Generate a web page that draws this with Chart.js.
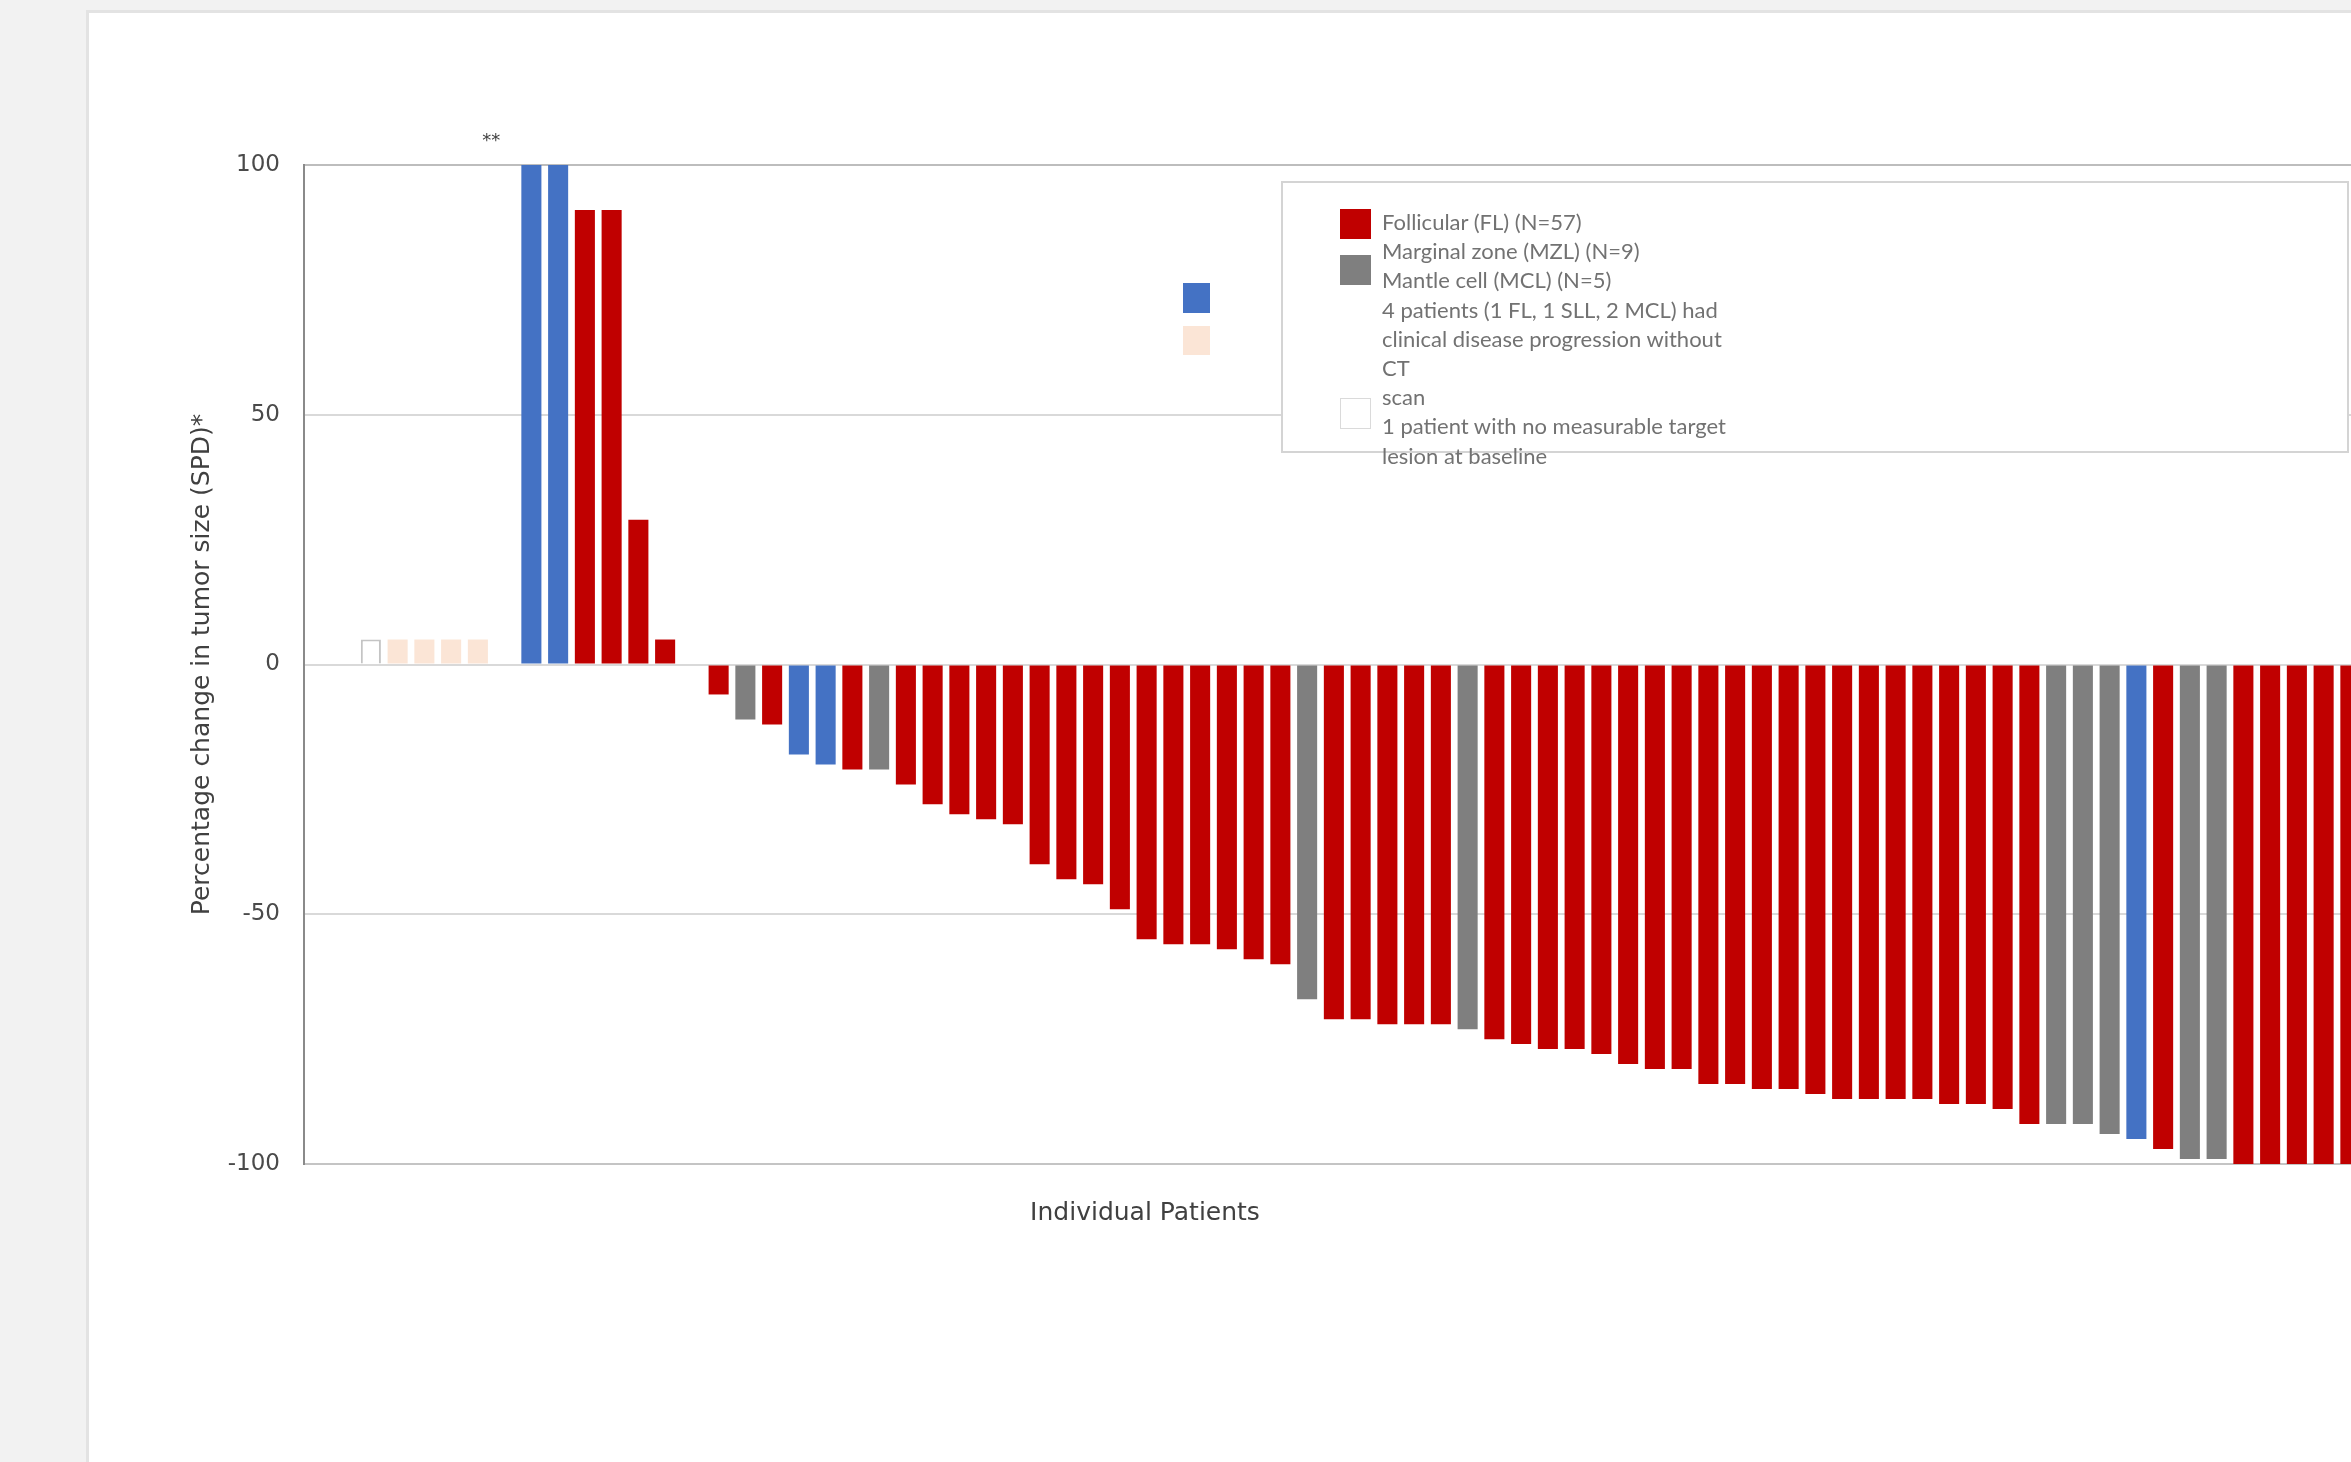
<!DOCTYPE html>
<html>
<head>
<meta charset="utf-8">
<script src="https://cdn.jsdelivr.net/npm/chart.js@4.4.1/dist/chart.umd.min.js"></script>
<style>
  html, body { margin: 0; padding: 0; width: 2351px; height: 1462px; overflow: hidden; background: #f2f2f2; }
  #card { position: absolute; left: 86px; top: 10px; width: 2400px; height: 1520px; background: #fff; border: 3px solid #e3e3e3; }
  #chart { position: absolute; left: 0; top: 0; }
  #key { position: absolute; left: 1281px; top: 181px; width: 1064px; height: 268px; border: 2px solid #d4d4d4; background: #fff; }
  .sw { position: absolute; box-sizing: border-box; }
  #keytext { position: absolute; left: 1382px; top: 207px; font: 22px Lato, sans-serif; line-height: 29.2px; color: #727272; white-space: nowrap; }
</style>
</head>
<body>
<div id="card"></div>
<canvas id="chart" width="2460" height="1462"></canvas>
<div id="key"></div>
<div id="keytext"></div>

<script>
// Best percentage change from baseline in tumour size (SPD), one slot per patient.
// null = spacer slot between groups.
const changePct = [
  null, null,
  5,                    // no measurable target lesion at baseline
  5, 5, 5, 5,           // clinical progression without CT scan
  null,
  100, 100, 91, 91, 29, 5,
  null,
  -6, -11, -12, -18, -20, -21, -21, -24, -28, -30,
  -31, -32, -40, -43, -44, -49, -55, -56, -56, -57,
  -59, -60, -67, -71, -71, -72, -72, -72, -73, -75,
  -76, -77, -77, -78, -80, -81, -81, -84, -84, -85,
  -85, -86, -87, -87, -87, -87, -88, -88, -89, -92,
  -92, -92, -94, -95, -97, -99, -99, -100, -100, -100,
  -100, -100, -100, -100, -100
];

// Histology / status of each slot (same order as changePct).
const subtype = [
  null, null,
  'NM',
  'PD', 'PD', 'PD', 'PD',
  null,
  'MCL', 'MCL', 'FL', 'FL', 'FL', 'FL',
  null,
  'FL', 'MZL', 'FL', 'MCL', 'MCL', 'FL', 'MZL', 'FL', 'FL', 'FL',
  'FL', 'FL', 'FL', 'FL', 'FL', 'FL', 'FL', 'FL', 'FL', 'FL',
  'FL', 'FL', 'MZL', 'FL', 'FL', 'FL', 'FL', 'FL', 'MZL', 'FL',
  'FL', 'FL', 'FL', 'FL', 'FL', 'FL', 'FL', 'FL', 'FL', 'FL',
  'FL', 'FL', 'FL', 'FL', 'FL', 'FL', 'FL', 'FL', 'FL', 'FL',
  'MZL', 'MZL', 'MZL', 'MCL', 'FL', 'MZL', 'MZL', 'FL', 'FL', 'FL',
  'FL', 'FL', 'FL', 'FL', 'FL'
];

const slotLabels = changePct.map((_, i) => 'Pt ' + (i + 1));

const yTicks = [100, 50, 0, -50, -100];

const yTitle = 'Percentage change in tumor size (SPD)*';
const xTitle = 'Individual Patients';
const truncatedMark = '**';

const legendLines = [
  'Follicular (FL) (N=57)',
  'Marginal zone (MZL) (N=9)',
  'Mantle cell (MCL) (N=5)',
  '4 patients (1 FL, 1 SLL, 2 MCL) had',
  'clinical disease progression without',
  'CT',
  'scan',
  '1 patient with no measurable target',
  'lesion at baseline'
];

const palette = {
  FL: '#c00000',
  MZL: '#7f7f7f',
  MCL: '#4472c4',
  PD: '#fbe5d6',
  NM: '#ffffff'
};

// ---- legend (HTML) ----
const keyText = document.getElementById('keytext');
legendLines.forEach(t => {
  const d = document.createElement('div');
  d.textContent = t;
  keyText.appendChild(d);
});
const swatches = [
  { c: palette.FL,  s: 'left:1340px;top:209px;width:31px;height:30px;' },
  { c: palette.MZL, s: 'left:1340px;top:255px;width:31px;height:30px;' },
  { c: palette.MCL, s: 'left:1183px;top:283px;width:27px;height:30px;' },
  { c: palette.PD,  s: 'left:1183px;top:326px;width:27px;height:29px;' },
  { c: palette.NM,  s: 'left:1340px;top:398px;width:31px;height:31px;border:1px solid #dadada;' }
];
swatches.forEach(w => {
  const d = document.createElement('div');
  d.className = 'sw';
  d.style.cssText = w.s + 'background:' + w.c + ';';
  document.body.appendChild(d);
});

// ---- extra text drawn on the canvas ----
const annotations = {
  id: 'annotations',
  afterDraw(chart) {
    const { ctx, chartArea, scales } = chart;
    ctx.save();
    ctx.fillStyle = '#404040';
    ctx.font = '25px "DejaVu Sans"';
    ctx.textAlign = 'center';
    ctx.textBaseline = 'middle';
    ctx.fillText(xTitle, chartArea.left + 841, chartArea.bottom + 49);
    ctx.font = '18px "DejaVu Sans"';
    ctx.fillText(truncatedMark, scales.x.getPixelForValue(6.5), chartArea.top - 24);
    ctx.restore();
  }
};

new Chart(document.getElementById('chart'), {
  type: 'bar',
  data: {
    labels: slotLabels,
    datasets: [{
      data: changePct,
      backgroundColor: subtype.map(s => s ? palette[s] : 'rgba(0,0,0,0)'),
      borderColor: subtype.map(s => s === 'NM' ? '#c4c4c4' : 'rgba(0,0,0,0)'),
      borderWidth: subtype.map(s => s === 'NM' ? 2 : 0),
      barPercentage: 0.75,
      categoryPercentage: 1.0
    }]
  },
  options: {
    responsive: false,
    animation: false,
    devicePixelRatio: 1,
    layout: { padding: { top: 165, bottom: 298, left: 0, right: 16 } },
    plugins: { legend: { display: false }, tooltip: { enabled: false } },
    scales: {
      x: {
        type: 'category',
        offset: true,
        ticks: { display: false },
        grid: { display: false, drawTicks: false },
        border: { display: true, color: '#c4c4c4', width: 2 },
        afterFit: s => { s.height = 0; }
      },
      y: {
        min: -100,
        max: 100,
        afterBuildTicks: s => { s.ticks = yTicks.map(v => ({ value: v })); },
        ticks: { padding: 24, color: '#4a4a4a', font: { family: 'DejaVu Sans', size: 23 } },
        grid: {
          color: c => (c.tick && c.tick.value === 100) ? '#bdbdbd' : '#d9d9d9',
          lineWidth: 2,
          drawTicks: false
        },
        border: { display: true, color: '#8a8a8a', width: 2 },
        title: {
          display: true,
          text: yTitle,
          color: '#404040',
          font: { family: 'DejaVu Sans', size: 25 },
          padding: { top: 187, bottom: 0 }
        },
        afterFit: s => { s.width = 304; }
      }
    }
  },
  plugins: [annotations]
});
</script>
</body>
</html>
